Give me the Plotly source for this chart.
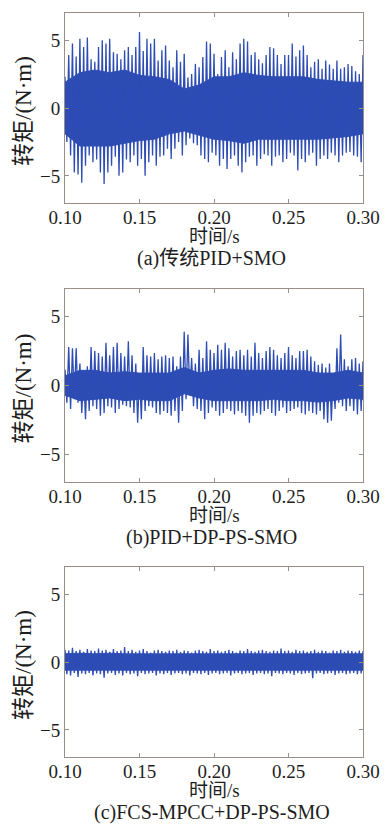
import plotly.graph_objects as go

# ---------------- data ----------------
T_START = 0.10
T_STEP = 0.0025      # spacing of successive positive peaks (s)
CORE_STEP = 0.01     # spacing of the dense-core envelope samples (s)

# (a) 传统PID+SMO : positive peaks / negative troughs
a_upper = [2.3, 3.9, 4.75, 3.8, 5.1, 4.5, 5.2, 3.6, 3.4, 4.5,
           5.0, 4.75, 5.1, 4.1, 4.0, 3.6, 4.25, 4.5, 3.9, 4.5,
           5.6, 4.2, 5.1, 4.75, 5.1, 3.5, 4.25, 4.6, 3.5, 3.0,
           4.25, 3.4, 4.0, 2.25, 2.5, 3.25, 3.0, 3.75, 4.9, 4.75,
           4.0, 2.5, 3.75, 4.25, 3.0, 4.1, 3.6, 4.75, 5.1, 4.9,
           3.9, 4.1, 3.6, 3.3, 3.9, 4.5, 4.4, 3.9, 3.25, 3.9,
           3.9, 4.75, 3.8, 4.25, 4.6, 3.9, 3.0, 3.4, 3.6, 2.9,
           3.5, 3.2, 2.9, 3.5, 2.9, 3.0, 3.25, 3.1, 2.7, 2.5, 3.9]
a_lower = [-2.5, -3.5, -4.75, -4.9, -5.5, -4.25, -3.5, -4.0, -3.8, -4.75,
           -5.6, -4.75, -4.25, -3.6, -5.0, -4.75, -3.8, -4.0, -3.5, -4.25,
           -3.75, -5.0, -4.0, -3.5, -4.25, -3.6, -3.5, -3.0, -3.75, -3.0,
           -2.5, -3.5, -2.75, -2.25, -2.6, -2.75, -3.5, -3.75, -4.0, -3.3,
           -3.5, -4.25, -3.75, -4.5, -3.75, -3.5, -4.25, -4.75, -4.0, -3.6,
           -3.5, -4.25, -3.75, -3.4, -3.5, -4.25, -3.6, -3.5, -4.0, -3.75,
           -3.3, -3.5, -4.6, -3.75, -4.0, -3.5, -3.3, -4.25, -3.75, -3.5,
           -3.75, -3.3, -3.5, -4.0, -3.5, -3.3, -3.25, -3.5, -3.6, -4.0]
a_core_up = [1.9, 2.6, 2.8, 2.6, 2.8, 2.4, 2.3, 2.1, 1.4, 1.7, 2.3,
             2.3, 2.6, 2.4, 2.3, 2.3, 2.3, 2.1, 2.0, 1.9, 1.9]
a_core_lo = [-1.9, -2.8, -2.8, -2.8, -2.6, -2.4, -2.3, -1.9, -1.7, -2.0, -2.3,
             -2.4, -2.6, -2.3, -2.3, -2.3, -2.3, -2.3, -2.2, -2.1, -1.9]

# (b) PID+DP-PS-SMO
b_upper = [1.15, 2.8, 2.7, 2.7, 1.6, 0.9, 1.4, 2.8, 2.5, 2.35,
           2.1, 3.1, 2.2, 2.8, 3.1, 2.35, 2.1, 3.2, 2.2, 1.6,
           0.9, 2.8, 2.2, 2.1, 2.35, 1.9, 2.1, 2.2, 2.0, 2.1,
           1.4, 2.1, 3.9, 3.7, 2.0, 1.6, 2.6, 2.0, 3.2, 2.6,
           2.35, 2.95, 2.6, 3.1, 2.7, 2.1, 2.5, 2.6, 2.2, 2.6,
           2.1, 3.1, 2.35, 2.0, 2.5, 2.8, 2.6, 2.2, 2.0, 2.35,
           2.8, 2.2, 2.0, 2.5, 2.5, 2.6, 2.1, 1.75, 1.5, 1.6,
           1.3, 1.6, 0.9, 2.7, 3.7, 1.9, 1.4, 1.9, 2.0, 1.6, 1.75]
b_lower = [-1.25, -1.7, -1.0, -1.25, -2.0, -2.45, -1.85, -1.5, -1.7, -2.2,
           -2.0, -1.5, -1.6, -2.0, -1.7, -1.4, -1.5, -1.6, -2.0, -2.7,
           -2.45, -1.85, -1.5, -1.6, -2.0, -2.1, -1.85, -2.0, -2.2, -1.85,
           -2.7, -1.85, -1.0, -0.65, -1.5, -1.7, -1.85, -2.45, -2.0, -1.6,
           -1.85, -2.2, -2.0, -1.7, -1.85, -2.1, -1.85, -2.0, -2.2, -2.7,
           -2.2, -2.0, -2.1, -1.85, -1.7, -2.0, -2.2, -1.85, -1.6, -2.0,
           -1.85, -1.7, -1.6, -2.0, -2.1, -1.85, -2.0, -2.1, -1.85, -2.45,
           -2.7, -2.55, -1.7, -1.25, -1.5, -1.85, -1.5, -1.85, -2.1, -1.85]
b_core_up = [0.7, 1.1, 1.1, 0.9, 1.0, 0.9, 0.9, 0.9, 1.3, 0.9, 1.1,
             1.2, 1.1, 1.1, 1.1, 1.1, 1.1, 0.9, 0.9, 1.1, 0.9]
b_core_lo = [-0.7, -1.1, -1.0, -0.9, -1.1, -1.0, -1.1, -1.1, -0.6, -0.9, -1.1,
             -1.1, -1.1, -1.1, -1.0, -1.1, -1.1, -1.2, -1.1, -0.9, -1.0]

# (c) FCS-MPCC+DP-PS-SMO
c_upper = [0.9, 0.85, 1.05, 0.8, 0.9, 0.75, 0.95, 0.85, 0.8, 1.0,
           0.85, 0.9, 0.75, 0.95, 0.8, 0.85, 1.1, 0.8, 0.9, 0.75,
           0.85, 0.95, 0.8, 0.7, 0.85, 0.9, 0.8, 0.75, 0.85, 0.8,
           0.9, 0.75, 0.85, 0.8, 0.7, 0.85, 0.9, 0.8, 0.75, 0.95,
           0.8, 0.85, 0.75, 0.8, 0.9, 0.8, 0.7, 0.85, 0.8, 0.95,
           0.8, 0.75, 0.85, 0.9, 0.8, 0.75, 0.85, 0.8, 1.0, 0.8,
           0.85, 0.75, 0.9, 0.8, 0.85, 0.75, 0.8, 0.9, 0.75, 0.85,
           0.8, 0.7, 0.85, 0.8, 0.9, 0.75, 0.85, 0.8, 0.75, 0.85, 0.8]
c_lower = [-0.9, -1.0, -0.8, -1.1, -0.85, -0.9, -0.8, -1.0, -0.85, -0.9,
           -1.15, -0.85, -0.8, -0.95, -0.85, -1.0, -0.8, -0.9, -0.85, -1.05,
           -0.8, -0.9, -0.85, -0.8, -1.0, -0.85, -0.9, -0.8, -0.95, -0.85,
           -0.8, -0.9, -0.85, -1.0, -0.8, -0.85, -0.9, -0.8, -0.95, -0.85,
           -0.8, -0.9, -0.85, -0.8, -1.0, -0.85, -0.8, -0.9, -0.85, -0.8,
           -0.95, -0.85, -0.8, -0.9, -0.85, -1.05, -0.8, -0.85, -0.9, -0.8,
           -0.85, -0.95, -0.8, -0.9, -0.85, -0.8, -1.2, -0.85, -0.8, -0.9,
           -0.85, -0.8, -0.95, -0.85, -0.8, -0.9, -0.85, -0.8, -0.9, -0.85]
c_core_up = [0.6, 0.65, 0.6, 0.65, 0.6, 0.6, 0.6, 0.6, 0.6, 0.6, 0.6,
             0.6, 0.6, 0.6, 0.6, 0.6, 0.6, 0.6, 0.6, 0.6, 0.6]
c_core_lo = [-0.6, -0.65, -0.6, -0.65, -0.6, -0.6, -0.6, -0.6, -0.6, -0.6, -0.6,
             -0.6, -0.6, -0.6, -0.6, -0.6, -0.6, -0.65, -0.6, -0.6, -0.6]

x_tickvals = [0.10, 0.15, 0.20, 0.25, 0.30]
x_ticktext = ["0.10", "0.15", "0.20", "0.25", "0.30"]
y_tickvals = [-5, 0, 5]
x_title = "时间/s"
y_title = "转矩/(N·m)"
captions = ["(a)传统PID+SMO", "(b)PID+DP-PS-SMO", "(c)FCS-MPCC+DP-PS-SMO"]

# ---------------- layout constants (pixels) ----------------
W, H = 386, 834
X_LEFT, X_RIGHT = 65, 363
panels = [  # top, bottom in pixels
    (13, 203),
    (289, 482),
    (567, 757),
]
LINE_COLOR = "#2d4cb4"
FRAME = "#9a8f88"
TXT = "#1e1e1e"
SERIF = "Liberation Serif, 'Noto Sans CJK SC', serif"


def zigzag(upper, lower):
    xs, ys = [], []
    for k, u in enumerate(upper):
        t = T_START + T_STEP * k
        xs.append(t)
        ys.append(u)
        if k < len(lower):
            xs.append(t + T_STEP / 2)
            ys.append(lower[k])
    return xs, ys


def core_polygon(up, lo):
    ts = [T_START + CORE_STEP * k for k in range(len(up))]
    return ts + ts[::-1], list(up) + list(lo)[::-1]


def px2y(p):
    return 1 - p / H


def px2x(p):
    return p / W


fig = go.Figure()
series = [(a_upper, a_lower, a_core_up, a_core_lo),
          (b_upper, b_lower, b_core_up, b_core_lo),
          (c_upper, c_lower, c_core_up, c_core_lo)]
annotations = []
for i, ((up, lo, cu, cl), (top, bot)) in enumerate(zip(series, panels)):
    n = "" if i == 0 else str(i + 1)
    cx, cy = core_polygon(cu, cl)
    fig.add_trace(go.Scatter(x=cx, y=cy, mode="lines", fill="toself",
                             fillcolor=LINE_COLOR,
                             line=dict(color=LINE_COLOR, width=1),
                             xaxis="x" + n, yaxis="y" + n,
                             showlegend=False, hoverinfo="skip"))
    xs, ys = zigzag(up, lo)
    fig.add_trace(go.Scatter(x=xs, y=ys, mode="lines",
                             line=dict(color=LINE_COLOR, width=1.3),
                             xaxis="x" + n, yaxis="y" + n,
                             showlegend=False, hoverinfo="skip"))
    axis_common = dict(showline=True, linecolor=FRAME, linewidth=1,
                       mirror="ticks", ticks="inside", ticklen=4,
                       tickcolor=FRAME, showgrid=False, zeroline=False,
                       automargin=False,
                       tickfont=dict(family=SERIF, size=19, color=TXT))
    fig.update_layout(**{
        "xaxis" + n: dict(domain=[px2x(X_LEFT), px2x(X_RIGHT)],
                          range=[0.10, 0.30], tickvals=x_tickvals,
                          ticktext=x_ticktext, anchor="y" + n,
                          ticklabelstandoff=-3, **axis_common),
        "yaxis" + n: dict(domain=[px2y(bot), px2y(top)], range=[-7, 7],
                          tickvals=y_tickvals, anchor="x" + n, **axis_common),
    })
    annotations.append(dict(text=x_title, x=px2x(214), y=px2y(bot + 33),
                            xref="paper", yref="paper", showarrow=False,
                            font=dict(family=SERIF, size=19, color=TXT),
                            xanchor="center", yanchor="middle"))
    annotations.append(dict(text=captions[i], x=px2x(212), y=px2y(bot + 55),
                            xref="paper", yref="paper", showarrow=False,
                            font=dict(family=SERIF, size=20, color=TXT),
                            xanchor="center", yanchor="middle"))
    annotations.append(dict(text=y_title, x=px2x(23), y=px2y((top + bot) / 2 + 3),
                            xref="paper", yref="paper", showarrow=False,
                            textangle=-90,
                            font=dict(family=SERIF, size=23, color=TXT),
                            xanchor="center", yanchor="middle"))

fig.update_layout(width=W, height=H, margin=dict(l=0, r=0, t=0, b=0),
                  paper_bgcolor="white", plot_bgcolor="white",
                  annotations=annotations)
fig.write_html("out.html", include_plotlyjs=True, full_html=True,
               config={"displayModeBar": False},
               post_script="document.body.style.margin='0';document.body.style.padding='0';")
